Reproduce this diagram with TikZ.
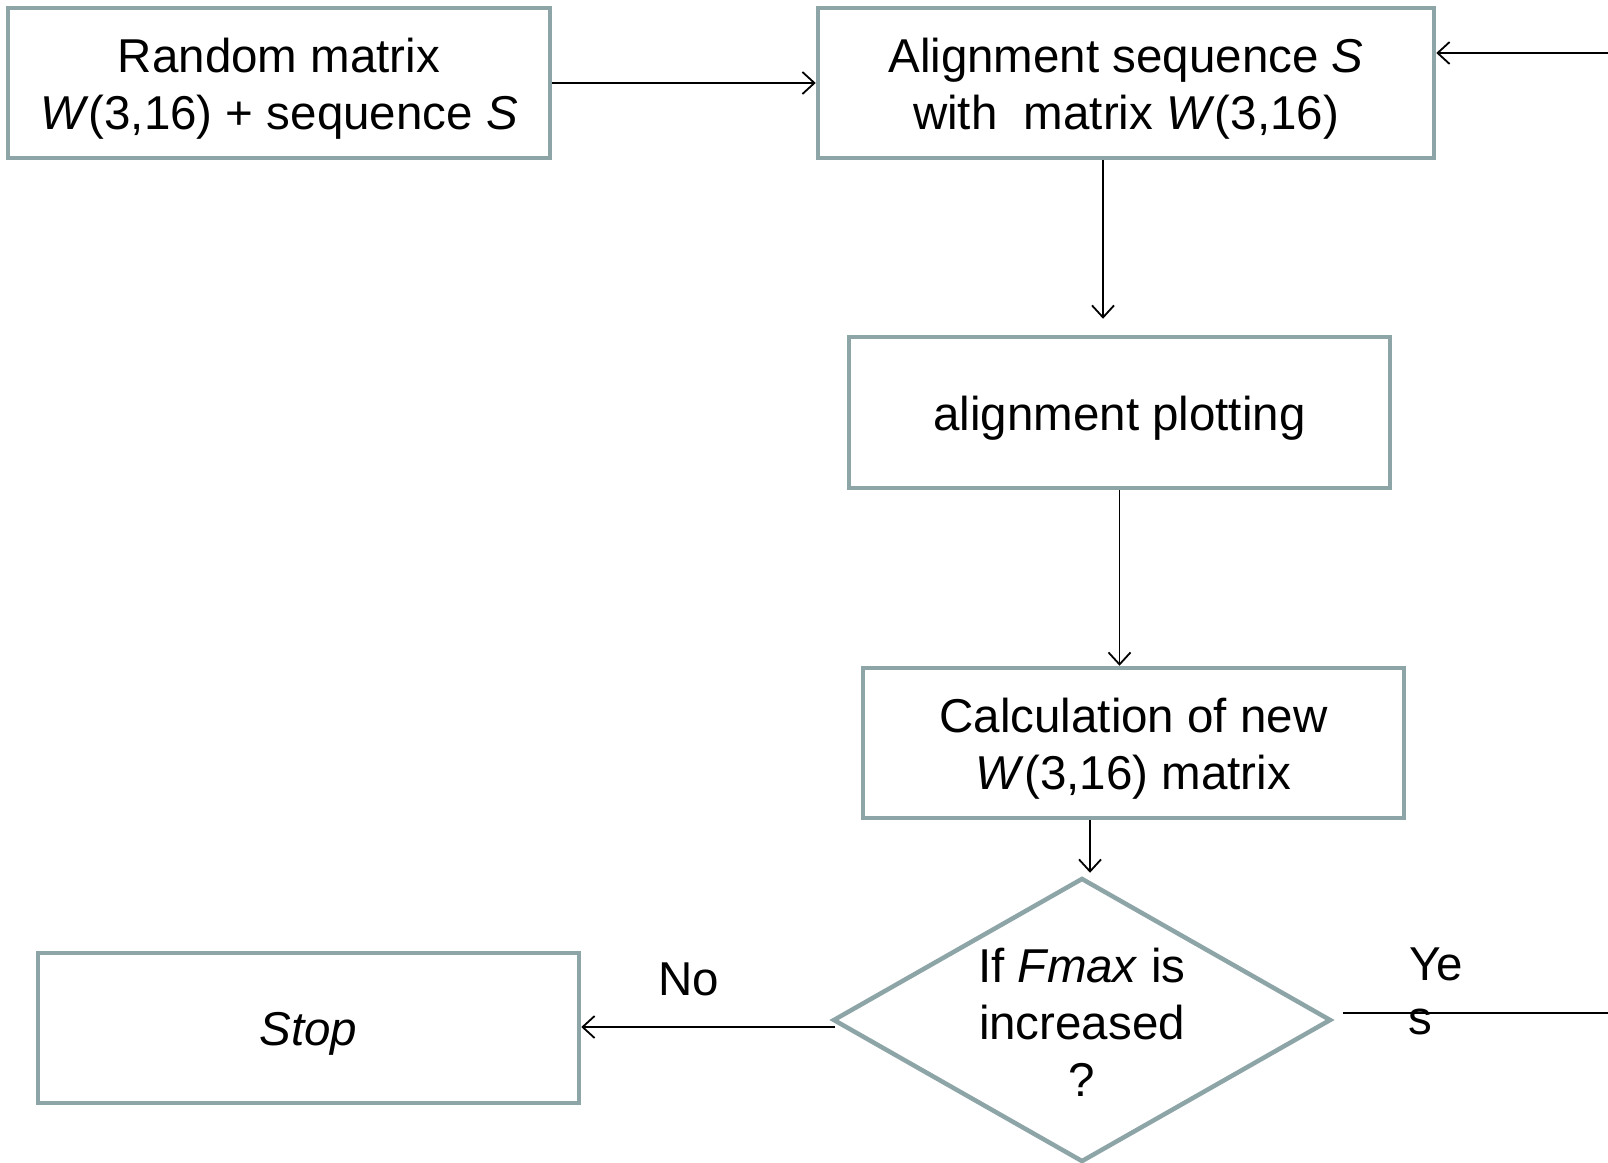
\documentclass[tikz,border=0pt]{standalone}
\usepackage{fontspec}
\setmainfont{Liberation Sans}
\usetikzlibrary{arrows.meta,shapes.geometric,calc}
\definecolor{boxgray}{RGB}{142,165,168}
\begin{document}
\begin{tikzpicture}[x=1pt,y=-1pt,
  box/.style={draw=boxgray,line width=4.5pt,rectangle,inner sep=0pt},
  txt/.style={inner sep=0pt,align=center,font=\fontsize{47.5}{57}\selectfont},
  btxt/.style={txt,yshift=-6pt},
  arr/.style={line width=1.8pt,-{Straight Barb[length=12pt,width=22pt,line width=1.8pt]}},
  ln/.style={line width=1.8pt}]
\useasboundingbox (0,0) rectangle (1608,1162);
\fill[white] (0,0) rectangle (1608,1162);

\node[box,minimum width=542pt,minimum height=150pt] (b1) at (279,83) {};
\node[btxt] (b1t) at (b1.center) {Random matrix\\\textit{W}(3,16) + sequence \textit{S}};
\node[box,minimum width=616pt,minimum height=150pt] (b2) at (1126,83) {};
\node[btxt] (b2t) at (b2.center) {Alignment sequence \textit{S}\\with\ \ matrix \textit{W}(3,16)};
\node[box,minimum width=541pt,minimum height=151pt] (b3) at (1119.5,412.5) {};
\node[btxt] (b3t) at (b3.center) {alignment plotting};
\node[box,minimum width=541pt,minimum height=150pt] (b4) at (1133.5,743) {};
\node[btxt] (b4t) at (b4.center) {Calculation of new\\\textit{W}(3,16) matrix};
\node[draw=boxgray,line width=4.5pt,diamond,minimum width=498pt,minimum height=284pt,inner sep=0pt] (d) at (1082,1020) {};
\node[txt] (dt) at (1082,1022) {If \textit{Fmax} is\\increased\\?};
\node[box,minimum width=541pt,minimum height=150pt] (stop) at (308.5,1028) {};
\node[btxt] (stopt) at (stop.center) {\textit{Stop}};

\node[txt] (no) at (689,979) {No};
\node[txt] (ye) at (1436,964) {Ye};
\node[txt] (s) at (1420,1022) {s};

\coordinate (x2) at (1103,0);
\coordinate (x4) at (1090,0);
\coordinate (noS) at (835,1027);
\coordinate (yesS) at (1343,1013);
\coordinate (yesE) at (1608,1013);
\coordinate (topS) at (1608,53);

\draw[arr] (b1.east) -- (b2.west);
\draw[arr] (b2.south -| x2) -- ($(b3.north -| x2)+(0,-16)$);
\draw[arr] (b3.south) -- (b4.north -| b3.south);
\draw[arr] (b4.south -| x4) -- ($(d.north -| x4)+(0,-3)$);
\draw[arr] (noS) -- (stop.east |- noS);
\draw[ln] (yesS) -- (yesE);
\draw[arr] (topS) -- (b2.east |- topS);
\end{tikzpicture}
\end{document}
